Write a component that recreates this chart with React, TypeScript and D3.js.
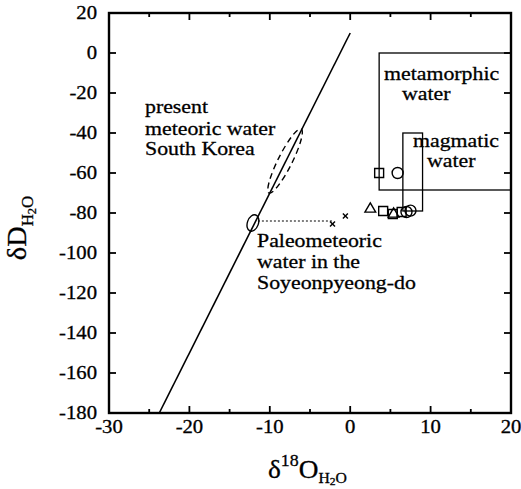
import React from 'react';
import * as d3 from 'd3';

const W = 521;
const H = 489;

// axis domains and ticks
const xDomain = [-30, 20];
const yDomain = [-180, 20];
const xMajorTicks = [-30, -20, -10, 0, 10, 20];
const xMinorTicks = [-25, -15, -5, 5, 15];
const yMajorTicks = [20, 0, -20, -40, -60, -80, -100, -120, -140, -160, -180];

// meteoric water line: δD = 8·δ18O + 10
const mwlSlope = 8;
const mwlIntercept = 10;
const mwlO = [-23.75, 0];

// fluid inclusion samples (δ18O, δD)
const sampleShape = ['square', 'circle', 'triangle', 'square', 'square', 'triangle', 'square', 'circle', 'circle'];
const sampleO = [3.6, 5.9, 2.5, 4.1, 5.3, 5.4, 6.4, 7.0, 7.5];
const sampleD = [-60, -60, -78, -79, -80.5, -80.5, -79.5, -79.5, -78.8];

// crosses near the paleometeoric level
const crossO = [-2.2, -0.6];
const crossD = [-85.5, -81.5];

// reference fields
const metamorphicO = [3.6, 20];
const metamorphicD = [-68.5, 0];
const magmaticO = [6.55, 9.0];
const magmaticD = [-79, -40];

// present meteoric water of South Korea (long-axis ends)
const presentO = [-10.1, -6.1];
const presentD = [-70, -38];

// paleometeoric water
const paleoO = -12.1;
const paleoD = -85;
const paleoLineO = [-12.1, -2.1];
const paleoLineD = -84;

const SERIF = "'Liberation Serif', 'Times New Roman', Times, serif";

type TProps = {
  x: number;
  y: number;
  size: number;
  sx?: number;
  anchor?: 'start' | 'middle' | 'end';
  children: React.ReactNode;
};

function T({ x, y, size, sx = 1.12, anchor = 'start', children }: TProps) {
  return (
    <text
      transform={`translate(${x},${y}) scale(${sx},1)`}
      fontFamily={SERIF}
      fontSize={size}
      textAnchor={anchor}
      fill="#000"
      stroke="#000"
      strokeWidth={0.3}
    >
      {children}
    </text>
  );
}

export default function App() {
  const x = d3.scaleLinear().domain(xDomain).range([109, 511]);
  const y = d3.scaleLinear().domain(yDomain).range([413, 13]);

  const [x0, x1] = x.range();
  const [y0, y1] = y.range();

  const mwl = d3
    .line<number>()
    .x((o) => x(o))
    .y((o) => y(mwlSlope * o + mwlIntercept));

  const symbolFor = (s: string) =>
    s === 'square'
      ? d3.symbol(d3.symbolSquare, 80)()
      : s === 'circle'
      ? d3.symbol(d3.symbolCircle, 95)()
      : d3.symbol(d3.symbolTriangle, 50)();

  // dashed ellipse geometry in pixels
  const pa = [x(presentO[0]), y(presentD[0])];
  const pb = [x(presentO[1]), y(presentD[1])];
  const pcx = (pa[0] + pb[0]) / 2;
  const pcy = (pa[1] + pb[1]) / 2;
  const prx = Math.hypot(pb[0] - pa[0], pb[1] - pa[1]) / 2;
  const pang = (Math.atan2(pb[1] - pa[1], pb[0] - pa[0]) * 180) / Math.PI;

  const tickFs = 18;

  return (
    <svg
      width={W}
      height={H}
      style={{ position: 'absolute', left: 0, top: 0, background: '#fff' }}
    >
      <rect width={W} height={H} fill="#fff" />
      <defs>
        <clipPath id="plotArea">
          <rect x={x0} y={y1} width={x1 - x0} height={y0 - y1} />
        </clipPath>
      </defs>

      {/* ticks on all four sides, pointing inward */}
      <g stroke="#000" strokeWidth={1.8}>
        {xMajorTicks.map((t) => (
          <g key={'xm' + t}>
            <line x1={x(t)} x2={x(t)} y1={y0} y2={y0 - 7} />
            <line x1={x(t)} x2={x(t)} y1={y1} y2={y1 + 7} />
          </g>
        ))}
        {xMinorTicks.map((t) => (
          <g key={'xn' + t}>
            <line x1={x(t)} x2={x(t)} y1={y0} y2={y0 - 4} />
            <line x1={x(t)} x2={x(t)} y1={y1} y2={y1 + 4} />
          </g>
        ))}
        {yMajorTicks.map((t) => (
          <g key={'ym' + t}>
            <line x1={x0} x2={x0 + 7} y1={y(t)} y2={y(t)} />
            <line x1={x1} x2={x1 - 7} y1={y(t)} y2={y(t)} />
          </g>
        ))}
      </g>

      {/* tick labels */}
      {xMajorTicks.map((t) => (
        <T key={'xl' + t} x={x(t)} y={y0 + 20} size={tickFs} sx={1.15} anchor="middle">
          {String(t)}
        </T>
      ))}
      {yMajorTicks.map((t) => (
        <T key={'yl' + t} x={x0 - 12} y={y(t) + 6} size={tickFs} sx={1.15} anchor="end">
          {String(t)}
        </T>
      ))}

      <g clipPath="url(#plotArea)" fill="none" stroke="#000">
        {/* reference fields */}
        <rect
          x={x(metamorphicO[0])}
          y={y(metamorphicD[1])}
          width={x(metamorphicO[1]) - x(metamorphicO[0])}
          height={y(metamorphicD[0]) - y(metamorphicD[1])}
          strokeWidth={1.3}
        />
        <rect
          x={x(magmaticO[0])}
          y={y(magmaticD[1])}
          width={x(magmaticO[1]) - x(magmaticO[0])}
          height={y(magmaticD[0]) - y(magmaticD[1])}
          strokeWidth={1.3}
        />

        {/* meteoric water line */}
        <path d={mwl(mwlO) || ''} strokeWidth={1.6} />

        {/* present meteoric water of South Korea */}
        <ellipse
          cx={pcx}
          cy={pcy}
          rx={prx}
          ry={7}
          transform={`rotate(${pang},${pcx},${pcy})`}
          strokeWidth={1.4}
          strokeDasharray="6,4"
        />

        {/* paleometeoric water */}
        <ellipse
          cx={x(paleoO)}
          cy={y(paleoD)}
          rx={5.5}
          ry={8.5}
          transform={`rotate(20,${x(paleoO)},${y(paleoD)})`}
          strokeWidth={1.4}
        />
        <line
          x1={x(paleoLineO[0]) + 5}
          x2={x(paleoLineO[1])}
          y1={y(paleoLineD)}
          y2={y(paleoLineD)}
          strokeWidth={1}
          strokeDasharray="2,2"
        />
        {crossO.map((o, i) => (
          <g key={'c' + i} transform={`translate(${x(o)},${y(crossD[i])})`} strokeWidth={1.4}>
            <line x1={-2.5} x2={2.5} y1={-2.5} y2={2.5} />
            <line x1={-2.5} x2={2.5} y1={2.5} y2={-2.5} />
          </g>
        ))}

        {/* samples */}
        {sampleO.map((o, i) => (
          <path
            key={'s' + i}
            d={symbolFor(sampleShape[i]) || ''}
            transform={`translate(${x(o)},${y(sampleD[i])})`}
            fill="none"
            strokeWidth={1.4}
          />
        ))}
      </g>

      {/* frame */}
      <rect x={x0} y={y1} width={x1 - x0} height={y0 - y1} fill="none" stroke="#000" strokeWidth={2.4} />

      {/* annotations */}
      <T x={145} y={113} size={19.5}>present</T>
      <T x={145} y={135} size={19.5}>meteoric water</T>
      <T x={145} y={155} size={19.5}>South Korea</T>

      <T x={257} y={247} size={19.5}>Paleometeoric</T>
      <T x={257} y={268} size={19.5}>water in the</T>
      <T x={257} y={289} size={19.5}>Soyeonpyeong-do</T>

      <T x={384} y={80} size={19.5}>metamorphic</T>
      <T x={402} y={100} size={19.5}>water</T>
      <T x={413} y={147} size={19.5}>magmatic</T>
      <T x={427} y={167} size={19.5}>water</T>

      {/* axis titles */}
      <T x={268} y={478} size={26} sx={1.05}>
        <tspan>δ</tspan>
        <tspan fontSize={17} dy={-12}>18</tspan>
        <tspan dy={12}>O</tspan>
        <tspan fontSize={15} dy={5}>H</tspan>
        <tspan fontSize={11} dy={2}>2</tspan>
        <tspan fontSize={15} dy={-2}>O</tspan>
      </T>
      <g transform="translate(26,228) rotate(-90)">
        <T x={0} y={0} size={27} sx={1.05} anchor="middle">
          <tspan>δD</tspan>
          <tspan fontSize={16} dy={7}>H</tspan>
          <tspan fontSize={12} dy={3}>2</tspan>
          <tspan fontSize={16} dy={-3}>O</tspan>
        </T>
      </g>
    </svg>
  );
}
